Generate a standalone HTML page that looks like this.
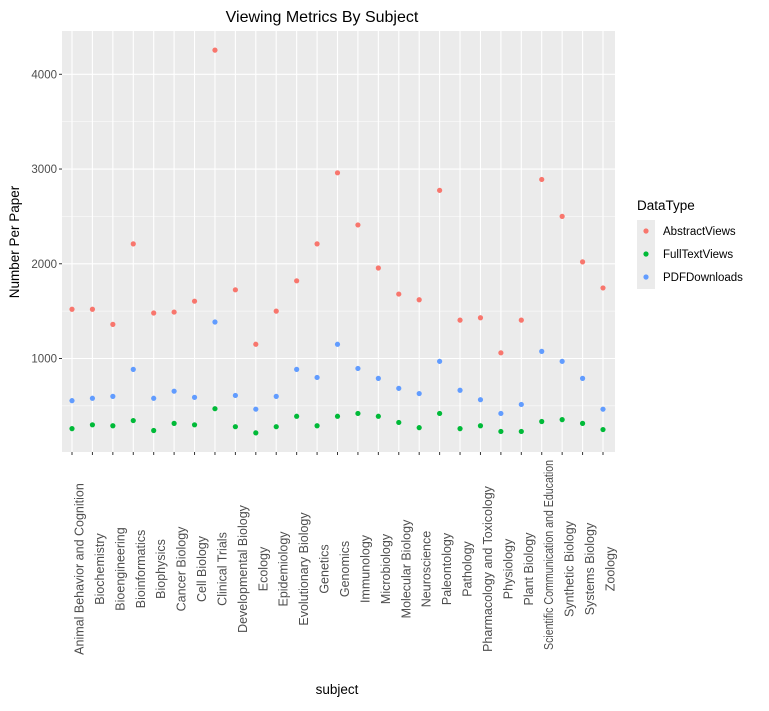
<!DOCTYPE html>
<html><head><meta charset="utf-8"><style>
body{margin:0;background:#fff;font-family:"Liberation Sans",sans-serif}
</style></head><body>
<svg id="chart" width="769" height="706" xmlns="http://www.w3.org/2000/svg" style="font-family:'Liberation Sans',sans-serif"></svg>
<script>
const categories=["Animal Behavior and Cognition","Biochemistry","Bioengineering","Bioinformatics","Biophysics","Cancer Biology","Cell Biology","Clinical Trials","Developmental Biology","Ecology","Epidemiology","Evolutionary Biology","Genetics","Genomics","Immunology","Microbiology","Molecular Biology","Neuroscience","Paleontology","Pathology","Pharmacology and Toxicology","Physiology","Plant Biology","Scientific Communication and Education","Synthetic Biology","Systems Biology","Zoology"];
const abstractViews=[1520,1520,1360,2210,1480,1490,1605,4255,1725,1150,1500,1820,2210,2960,2410,1955,1680,1620,2775,1405,1430,1060,1405,2890,2500,2020,1745];
const pdfDownloads=[555,580,600,885,580,655,590,1385,610,465,600,885,800,1150,895,790,685,630,970,665,565,420,515,1075,970,790,465];
const fullTextViews=[260,300,290,345,240,315,300,470,280,215,280,390,290,390,420,390,325,270,420,260,290,230,230,335,355,315,250];
const yTicks=[1000,2000,3000,4000];
const yMinor=[500,1500,2500,3500];
const seriesNames=["AbstractViews","FullTextViews","PDFDownloads"];
const seriesColors=["#F8766D","#00BA38","#619CFF"];

const NS="http://www.w3.org/2000/svg";
const svg=document.getElementById('chart');
const P={l:62,r:615,t:31,b:452};
const yMin=13,yMax=4457;
function y(v){return P.b-(v-yMin)/(yMax-yMin)*(P.b-P.t);}
function x(i){return 72+i*(603-72)/(categories.length-1);}
function mk(tag,attrs,parent){const e=document.createElementNS(NS,tag);for(const k in attrs)e.setAttribute(k,attrs[k]);(parent||svg).appendChild(e);return e;}

const panel=mk('rect',{x:P.l,y:P.t,width:P.r-P.l,height:P.b-P.t,fill:'#EBEBEB'});


yMinor.forEach(v=>{const l=mk('line',{x1:P.l,x2:P.r,y1:y(v),y2:y(v),stroke:'#fff','stroke-width':0.5});

});
yTicks.forEach(v=>{const l=mk('line',{x1:P.l,x2:P.r,y1:y(v),y2:y(v),stroke:'#fff','stroke-width':1.1});


const t=mk('line',{x1:P.l-3,x2:P.l,y1:y(v),y2:y(v),stroke:'#333'});


const tx=mk('text',{x:P.l-5,y:y(v)+4,'text-anchor':'end','font-size':11.5,fill:'#4D4D4D'});tx.textContent=v;

});
categories.forEach((c,i)=>{const l=mk('line',{x1:x(i),x2:x(i),y1:P.t,y2:P.b,stroke:'#fff','stroke-width':1.1});


const t=mk('line',{x1:x(i),x2:x(i),y1:P.b,y2:P.b+3,stroke:'#333'});


const tx=mk('text',{x:0,y:0,'text-anchor':'middle','font-size':12.5,fill:'#4D4D4D',transform:`translate(${x(i)+11.5},569) rotate(-90)`});tx.textContent=c;


if(tx.getComputedTextLength()>185){tx.setAttribute('textLength',190);tx.setAttribute('lengthAdjust','spacingAndGlyphs');tx.setAttribute('transform',`translate(${x(i)+11.5},555) rotate(-90)`);}});
[[abstractViews,0],[fullTextViews,1],[pdfDownloads,2]].forEach(([arr,s])=>{arr.forEach((v,i)=>{const p=mk('circle',{cx:x(i),cy:y(v),r:2.6,fill:seriesColors[s]});

});});

let t=mk('text',{x:322,y:22,'text-anchor':'middle','font-size':16,fill:'#000'});t.textContent='Viewing Metrics By Subject';


t=mk('text',{x:0,y:0,'text-anchor':'middle','font-size':13.5,fill:'#000',transform:'translate(19,242) rotate(-90)'});t.textContent='Number Per Paper';


t=mk('text',{x:337,y:694,'text-anchor':'middle','font-size':13.5,fill:'#000'});t.textContent='subject';


t=mk('text',{x:637,y:210,'font-size':13.5,fill:'#000'});t.textContent='DataType';


seriesNames.forEach((n,k)=>{const cy=231+k*23;
const b=mk('rect',{x:637,y:cy-11,width:18,height:23,fill:'#EBEBEB'});


const c=mk('circle',{cx:646,cy:cy,r:2.6,fill:seriesColors[k]});


const tx=mk('text',{x:663,y:cy+4,'font-size':11.5,fill:'#000'});tx.textContent=n;

});
</script>
</body></html>
